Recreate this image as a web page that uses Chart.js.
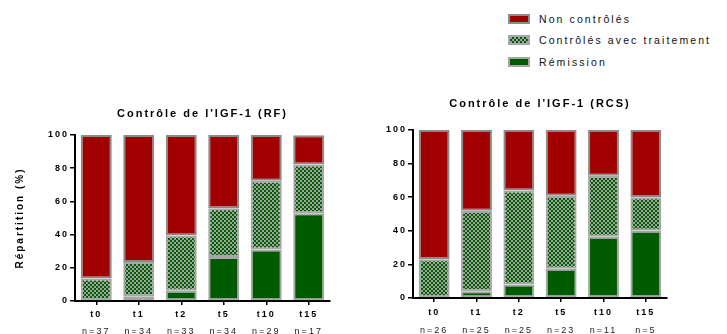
<!DOCTYPE html>
<html lang="fr">
<head>
<meta charset="utf-8">
<title>Contrôle de l'IGF-1</title>
<script src="https://cdn.jsdelivr.net/npm/chart.js@4.4.0/dist/chart.umd.min.js"></script>
<style>
  body { margin: 0; background: #fff; width: 727px; height: 334px; overflow: hidden; position: relative;
         font-family: 'Liberation Sans', Arial, sans-serif; }
  #chartRF { position: absolute; left: 0; top: 90px; }
  #chartRCS { position: absolute; left: 345px; top: 80px; }
  .legende { position: absolute; left: 508px; top: 8px; font-size: 10.5px; letter-spacing: 2.1px; color: #111; }
  .legende div { height: 21.5px; display: flex; align-items: center; }
  .legende span.box { display: inline-block; width: 18px; height: 6px; border: 2px solid #a6a6a6; margin-right: 9px; }
</style>
</head>
<body>
<div class="legende">
  <div><span class="box" style="background:#a00000;border-color:#8c8c8c"></span>Non contrôlés</div>
  <div><span class="box" style="background-image:conic-gradient(#006000 25%, #a0a0a0 0 50%, #006000 0 75%, #a0a0a0 0);background-size:4px 4px"></span>Contrôlés avec traitement</div>
  <div><span class="box" style="background:#005a00"></span>Rémission</div>
</div>
<canvas id="chartRF" width="345" height="244"></canvas>
<canvas id="chartRCS" width="382" height="254"></canvas>
<script>
// Données (% de patients)
const categories = ['t0', 't1', 't2', 't5', 't10', 't15'];
const effectifsRF = ['n=37', 'n=34', 'n=33', 'n=34', 'n=29', 'n=17'];
const effectifsRCS = ['n=26', 'n=25', 'n=25', 'n=23', 'n=11', 'n=5'];

const remissionRF = [0, 2.9, 6.1, 26.5, 31.0, 52.9];
const traitementRF = [13.5, 20.6, 33.3, 29.4, 41.4, 29.4];
const nonControlesRF = [86.5, 76.5, 60.6, 44.1, 27.6, 17.6];

const remissionRCS = [0, 4, 8, 17.4, 36.4, 40];
const traitementRCS = [23.1, 48, 56, 43.5, 36.4, 20];
const nonControlesRCS = [76.9, 48, 36, 39.1, 27.3, 40];

const yTicks = [0, 20, 40, 60, 80, 100];

const police = "'Liberation Sans', Arial, sans-serif";

/**
 * Motif damier vert / gris
 */
function damier() {
  const c = document.createElement('canvas');
  c.width = 4; c.height = 4;
  const g = c.getContext('2d');
  g.fillStyle = '#a0a0a0';
  g.fillRect(0, 0, 4, 4);
  g.fillStyle = '#006000';
  g.fillRect(0, 0, 2, 2);
  g.fillRect(2, 2, 2, 2);
  return g.createPattern(c, 'repeat');
}

// espacement des lettres comme dans l'original
const espacement = {
  id: 'espacement',
  beforeLayout(chart) { chart.ctx.letterSpacing = '2px'; },
  beforeDraw(chart) { chart.ctx.letterSpacing = '2px'; }
};

/**
 * Construit un graphique empilé
 */
function creerGraphique(id, titre, remission, traitement, nonCtrl, effectifs, cfg) {
  const ctx = document.getElementById(id);
  const barre = {
    barPercentage: 0.73,
    categoryPercentage: 1,
    borderWidth: c => (c.raw === 0 ? 0 : 2),
    borderSkipped: false
  };

  new Chart(ctx, {
    type: 'bar',
    data: {
      labels: categories,
      datasets: [
        Object.assign({ label: 'Rémission', data: remission, backgroundColor: '#005a00', borderColor: '#a6a6a6' }, barre),
        Object.assign({ label: 'Contrôlés avec traitement', data: traitement, backgroundColor: damier(), borderColor: '#a6a6a6' }, barre),
        Object.assign({ label: 'Non contrôlés', data: nonCtrl, backgroundColor: '#a00000', borderColor: '#8a8a8a' }, barre)
      ]
    },
    options: {
      responsive: false,
      animation: false,
      layout: { padding: { left: 0, right: cfg.droite, top: 0, bottom: 0 } },
      plugins: {
        legend: { display: false },
        tooltip: { enabled: false },
        title: {
          display: true,
          text: titre,
          fullSize: false,
          color: '#000',
          font: { family: police, size: 11, weight: 'bold' },
          padding: { top: cfg.titreHaut, bottom: cfg.titreBas }
        }
      },
      scales: {
        x: {
          stacked: true,
          afterFit: s => { s.height = cfg.hautX; },
          border: { display: true, color: '#000', width: 2 },
          grid: { display: true, drawOnChartArea: false, offset: false, tickLength: 4, color: '#000', lineWidth: 1.5 },
          ticks: {
            color: '#000', padding: cfg.padX,
            font: { family: police, size: 9, weight: 'bold' }
          }
        },
        x2: {
          type: 'category',
          position: 'bottom',
          labels: effectifs,
          offset: true,
          afterFit: s => { s.height = cfg.hautN; },
          border: { display: false },
          grid: { display: false },
          ticks: {
            color: '#222', padding: 0,
            font: { family: police, size: 9 }
          }
        },
        y: {
          stacked: true,
          min: 0,
          max: 100,
          afterFit: s => { s.width = cfg.largeurY; },
          afterBuildTicks: s => { s.ticks = yTicks.map(v => ({ value: v })); },
          border: { display: true, color: '#000', width: 2 },
          grid: { display: true, drawOnChartArea: false, tickLength: 5, color: '#000', lineWidth: 1.5 },
          ticks: {
            color: '#000', padding: 1,
            font: { family: police, size: 9, weight: 'bold' }
          },
          title: {
            display: !!cfg.titreY,
            text: cfg.titreY,
            color: '#000',
            font: { family: police, size: 10, weight: 'bold' },
            padding: { top: 14, bottom: 0 }
          }
        }
      }
    },
    plugins: [espacement]
  });
}

creerGraphique('chartRF', "Contrôle de l'IGF-1 (RF)", remissionRF, traitementRF, nonControlesRF, effectifsRF,
  { droite: 15, titreHaut: 17.5, titreBas: 14.3, hautX: 17, hautN: 16, padX: 4, largeurY: 75, titreY: 'Répartition (%)' });

creerGraphique('chartRCS', "Contrôle de l'IGF-1 (RCS)", remissionRCS, traitementRCS, nonControlesRCS, effectifsRCS,
  { droite: 60, titreHaut: 17, titreBas: 19.8, hautX: 19, hautN: 17, padX: 5, largeurY: 68, titreY: '' });
</script>
</body>
</html>
